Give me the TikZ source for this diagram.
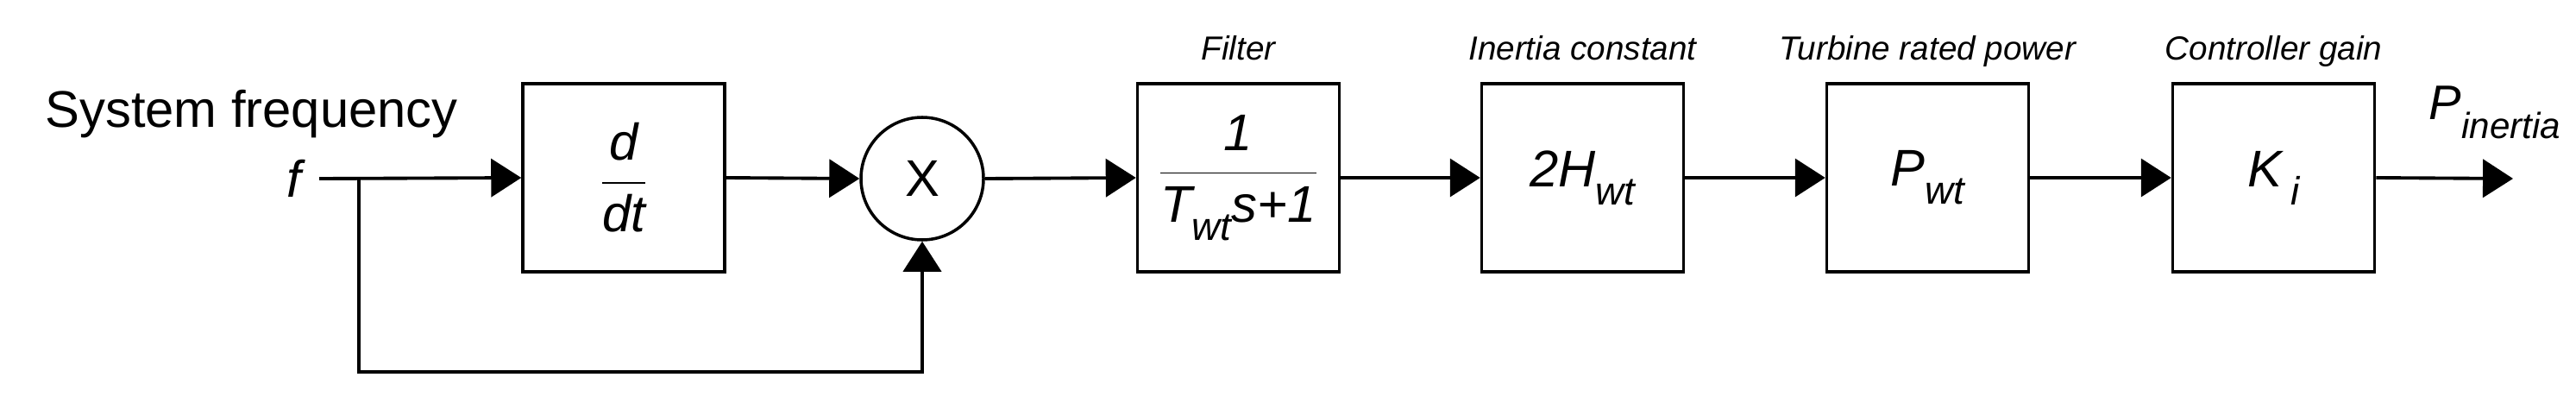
\documentclass[tikz,border=0pt]{standalone}
\usepackage{fontspec}
\setmainfont{Liberation Sans}
\usetikzlibrary{arrows.meta}
\newcommand{\lowsub}[1]{\raisebox{-0.35em}{\fontsize{13}{13}\selectfont #1}}
\begin{document}
\begin{tikzpicture}[
  blk/.style={draw,line width=1pt,minimum width=2.34cm,minimum height=2.18cm,inner sep=0pt,font=\fontsize{17}{20}\selectfont\itshape},
  lab/.style={font=\fontsize{11}{13}\selectfont\itshape},
  sig/.style={line width=1.1pt,-{Triangle[length=0.35cm,width=0.44cm]}}]
\useasboundingbox (0,0) rectangle (29.86,4.73);
\node[font=\fontsize{17}{20}\selectfont,anchor=base west] (sf) at (0.40,3.26) {System frequency};
\node[font=\fontsize{17}{20}\selectfont\itshape,anchor=east] (f) at (3.62,2.66) {f};
\coordinate (fs) at (3.70,2.66);
\coordinate (br) at (4.16,2.66);
\node[blk] (d) at (7.23,2.67) {$\displaystyle\frac{\textit{d}}{\textit{dt}}$};
\node[draw,line width=1pt,circle,minimum size=1.42cm,inner sep=0pt,font=\fontsize{17}{20}\selectfont] (x) at (10.69,2.66) {X};
\node[blk] (flt) at (14.355,2.67) {$\displaystyle\frac{\textit{1}}{\textit{T\lowsub{wt}s+1}}$};
\node[blk] (h) at (18.345,2.67) {2H\lowsub{wt}};
\node[blk] (p) at (22.345,2.67) {P\lowsub{wt}};
\node[blk] (k) at (26.355,2.67) {K\,\lowsub{i}};
\coordinate (out) at (29.13,2.66);
\node[lab,anchor=base] at (flt.north |- 0,4.03) {Filter};
\node[lab,anchor=base] at (h.north |- 0,4.03) {Inertia constant};
\node[lab,anchor=base] at (p.north |- 0,4.03) {Turbine rated power};
\node[lab,anchor=base] at (k.north |- 0,4.03) {Controller gain};
\node[font=\fontsize{16}{18}\selectfont\itshape,anchor=base west,inner sep=0pt] (pi) at (28.15,3.35) {P\raisebox{-0.4em}{\fontsize{12}{12}\selectfont inertia}};
\coordinate (lb) at (4.16,0.42);
\coordinate (rb) at (10.69,0.42);
\draw[sig] (fs) -- (d.west);
\draw[sig] (d.east) -- (x.west);
\draw[sig] (x.east) -- (flt.west);
\draw[sig] (flt.east) -- (h.west);
\draw[sig] (h.east) -- (p.west);
\draw[sig] (p.east) -- (k.west);
\draw[sig] (k.east) -- (out);
\draw[sig] (br) -- (lb) -- (rb) -- (x.south);
\end{tikzpicture}
\end{document}
